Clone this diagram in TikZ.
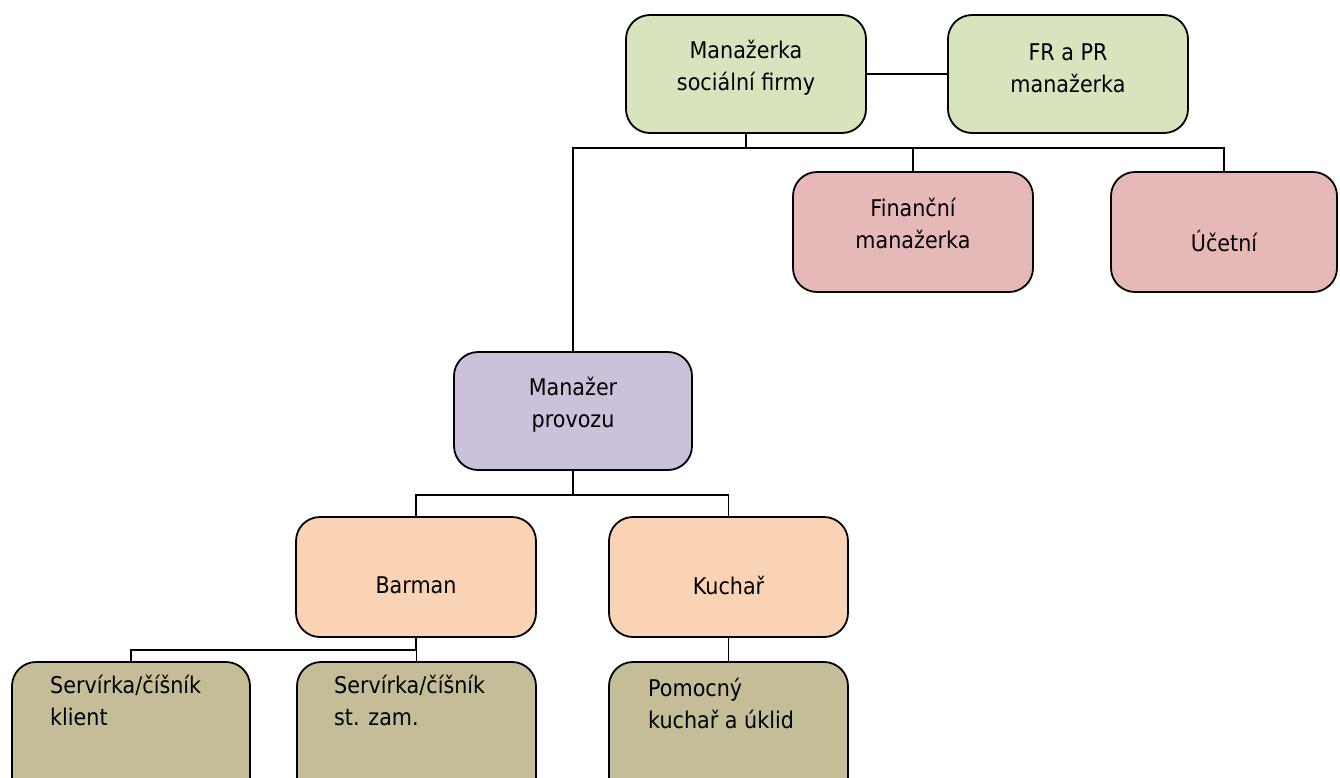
\documentclass[tikz,border=0pt]{standalone}
\usepackage{fontspec}
\setmainfont{DejaVu Sans}[FakeStretch=0.9]
\definecolor{cgreen}{HTML}{D7E4BD}
\definecolor{cpink}{HTML}{E6B9B8}
\definecolor{cpurple}{HTML}{CCC1DA}
\definecolor{cpeach}{HTML}{FAD3B4}
\definecolor{ckhaki}{HTML}{C4BD97}
\tikzset{
  box/.style={draw=black, line width=1.8pt, rounded corners=24pt, inner sep=0pt},
  lbl/.style={inner sep=0pt, font=\fontsize{23}{32}\selectfont, text=black},
  conn/.style={draw=black, line width=1.8pt},
}
\begin{document}
\begin{tikzpicture}[x=1pt,y=-1pt]
\useasboundingbox (0,0) rectangle (1340,777);
\fill[white] (0,0) rectangle (1340,777);
\clip (0,0) rectangle (1340,777);
% boxes
\node[box, fill=cgreen, minimum width=240pt, minimum height=118pt] (msf) at (746,74) {};
\node[box, fill=cgreen, minimum width=240pt, minimum height=118pt] (fr) at (1068,74) {};
\node[box, fill=cpink, minimum width=240pt, minimum height=120pt] (fin) at (913,232) {};
\node[box, fill=cpink, minimum width=226pt, minimum height=120pt] (ucet) at (1224,232) {};
\node[box, fill=cpurple, minimum width=238pt, minimum height=118pt] (mp) at (573,411) {};
\node[box, fill=cpeach, minimum width=240pt, minimum height=120pt] (bar) at (416,577) {};
\node[box, fill=cpeach, minimum width=239pt, minimum height=120pt] (kuch) at (728.5,577) {};
\node[box, fill=ckhaki, minimum width=238pt, minimum height=140pt] (s1) at (131,732) {};
\node[box, fill=ckhaki, minimum width=239pt, minimum height=140pt] (s2) at (416.5,732) {};
\node[box, fill=ckhaki, minimum width=239pt, minimum height=140pt] (pom) at (728.5,732) {};
% labels
\node[lbl, align=center] (tmsf) at (746,68) {Manažerka\\sociální firmy};
\node[lbl, align=center] (tfr) at (1068,68) {FR a PR\\manažerka};
\node[lbl, align=center] (tfin) at (913,223.5) {Finanční\\manažerka};
\node[lbl] (tucet) at (1224,241) {Účetní};
\node[lbl, align=center] (tmp) at (573,405) {Manažer\\provozu};
\node[lbl] (tbar) at (416,585) {Barman};
\node[lbl] (tkuch) at (728.5,585) {Kuchař};
\node[lbl, align=left, anchor=west] (ts1) at (50,700) {Servírka/číšník\\klient};
\node[lbl, align=left, anchor=west] (ts2) at (334,700) {Servírka/číšník\\st. zam.};
\node[lbl, align=left, anchor=west] (tpom) at (648,703) {Pomocný\\kuchař a úklid};
% bus coordinates
\coordinate (b1) at (0,148);
\coordinate (b2) at (0,495);
\coordinate (b3) at (0,650);
% connectors
\draw[conn] (msf.east) -- (fr.west);
\draw[conn] (msf.south) -- (msf.south |- b1);
\draw[conn] (mp.north) |- (ucet.north |- b1) -- (ucet.north);
\draw[conn] (fin.north) -- (fin.north |- b1);
\draw[conn] (mp.south) -- (mp.south |- b2);
\draw[conn] (bar.north) |- (kuch.north |- b2) -- (kuch.north);
\draw[conn] (bar.south) -- (bar.south |- b3);
\draw[conn] (s1.north) |- (s2.north |- b3) -- (s2.north);
\draw[conn] (kuch.south) -- (pom.north);
\end{tikzpicture}
\end{document}
